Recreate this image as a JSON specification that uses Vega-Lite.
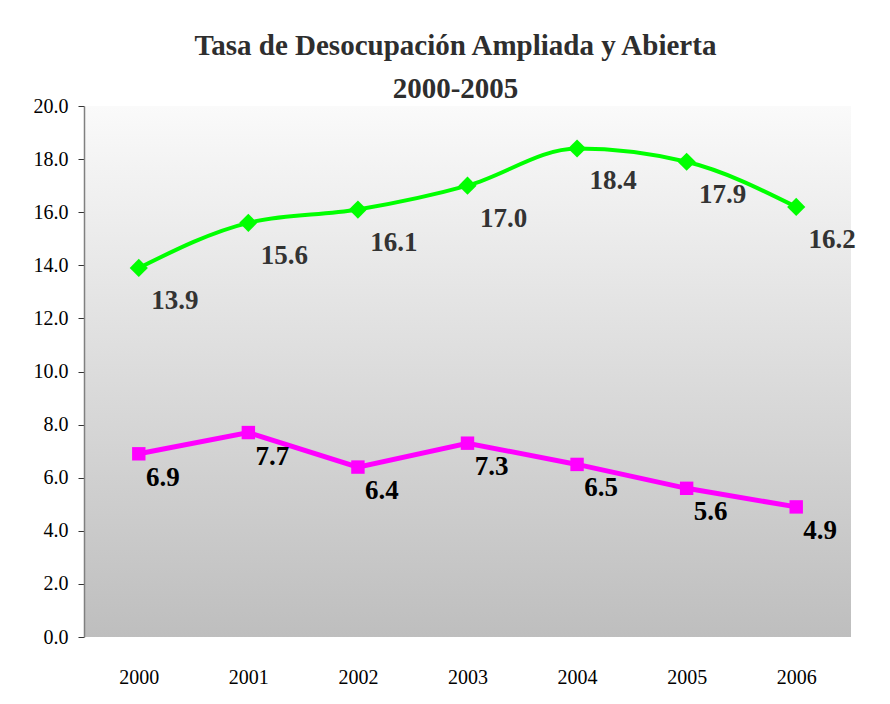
{
  "$schema": "https://vega.github.io/schema/vega-lite/v6.json",
  "width": 767,
  "height": 531,
  "autosize": {"type": "none"},
  "padding": {"left": 84, "top": 106, "right": 39, "bottom": 67},
  "background": "white",
  "config": {
    "view": {
      "stroke": null,
      "fill": {
        "gradient": "linear",
        "x1": 0, "y1": 0, "x2": 0, "y2": 1,
        "stops": [
          {"offset": 0, "color": "#fafafa"},
          {"offset": 1, "color": "#bebebe"}
        ]
      }
    }
  },
  "title": {
    "text": ["Tasa de Desocupación Ampliada y Abierta", "2000-2005"],
    "font": "Liberation Serif",
    "fontSize": 29,
    "fontWeight": "bold",
    "color": "#2e2e2e",
    "lineHeight": 43,
    "anchor": "middle",
    "offset": -8,
    "dx": -12
  },
  "data": {
    "values": [
      {"year": "2000", "serie": "Ampliada", "value": 13.9},
      {"year": "2001", "serie": "Ampliada", "value": 15.6},
      {"year": "2002", "serie": "Ampliada", "value": 16.1},
      {"year": "2003", "serie": "Ampliada", "value": 17.0},
      {"year": "2004", "serie": "Ampliada", "value": 18.4},
      {"year": "2005", "serie": "Ampliada", "value": 17.9},
      {"year": "2006", "serie": "Ampliada", "value": 16.2},
      {"year": "2000", "serie": "Abierta", "value": 6.9},
      {"year": "2001", "serie": "Abierta", "value": 7.7},
      {"year": "2002", "serie": "Abierta", "value": 6.4},
      {"year": "2003", "serie": "Abierta", "value": 7.3},
      {"year": "2004", "serie": "Abierta", "value": 6.5},
      {"year": "2005", "serie": "Abierta", "value": 5.6},
      {"year": "2006", "serie": "Abierta", "value": 4.9}
    ]
  },
  "encoding": {
    "x": {
      "field": "year",
      "type": "ordinal",
      "scale": {"type": "point", "padding": 0.5},
      "axis": {
        "title": null,
        "labelAngle": 0,
        "domain": false,
        "ticks": false,
        "labelFont": "Liberation Serif",
        "labelFontSize": 20,
        "labelColor": "#000000",
        "labelPadding": 30
      }
    },
    "y": {
      "field": "value",
      "type": "quantitative",
      "scale": {"domain": [0, 20], "nice": false},
      "axis": {
        "title": null,
        "values": [0, 2, 4, 6, 8, 10, 12, 14, 16, 18, 20],
        "format": ".1f",
        "grid": false,
        "domainColor": "#808080",
        "domainWidth": 1.5,
        "tickColor": "#333333",
        "tickSize": 6,
        "labelFont": "Liberation Serif",
        "labelFontSize": 20,
        "labelColor": "#000000",
        "labelPadding": 10
      }
    }
  },
  "layer": [
    {
      "transform": [{"filter": "datum.serie === 'Ampliada'"}],
      "mark": {"type": "line", "color": "#00ff00", "strokeWidth": 4, "interpolate": "monotone"}
    },
    {
      "transform": [{"filter": "datum.serie === 'Ampliada'"}],
      "mark": {"type": "point", "shape": "diamond", "filled": true, "color": "#00ff00", "size": 330, "opacity": 1}
    },
    {
      "transform": [{"filter": "datum.serie === 'Ampliada'"}],
      "mark": {"type": "text", "font": "Liberation Serif", "fontSize": 27, "fontWeight": "bold", "color": "#333333", "dx": 36, "dy": 33},
      "encoding": {"text": {"field": "value", "type": "quantitative", "format": ".1f"}}
    },
    {
      "transform": [{"filter": "datum.serie === 'Abierta'"}],
      "mark": {"type": "line", "color": "#ff00ff", "strokeWidth": 5}
    },
    {
      "transform": [{"filter": "datum.serie === 'Abierta'"}],
      "mark": {"type": "point", "shape": "square", "filled": true, "color": "#ff00ff", "size": 180, "opacity": 1}
    },
    {
      "transform": [{"filter": "datum.serie === 'Abierta'"}],
      "mark": {"type": "text", "font": "Liberation Serif", "fontSize": 27, "fontWeight": "bold", "color": "#000000", "dx": 24, "dy": 24},
      "encoding": {"text": {"field": "value", "type": "quantitative", "format": ".1f"}}
    }
  ]
}
